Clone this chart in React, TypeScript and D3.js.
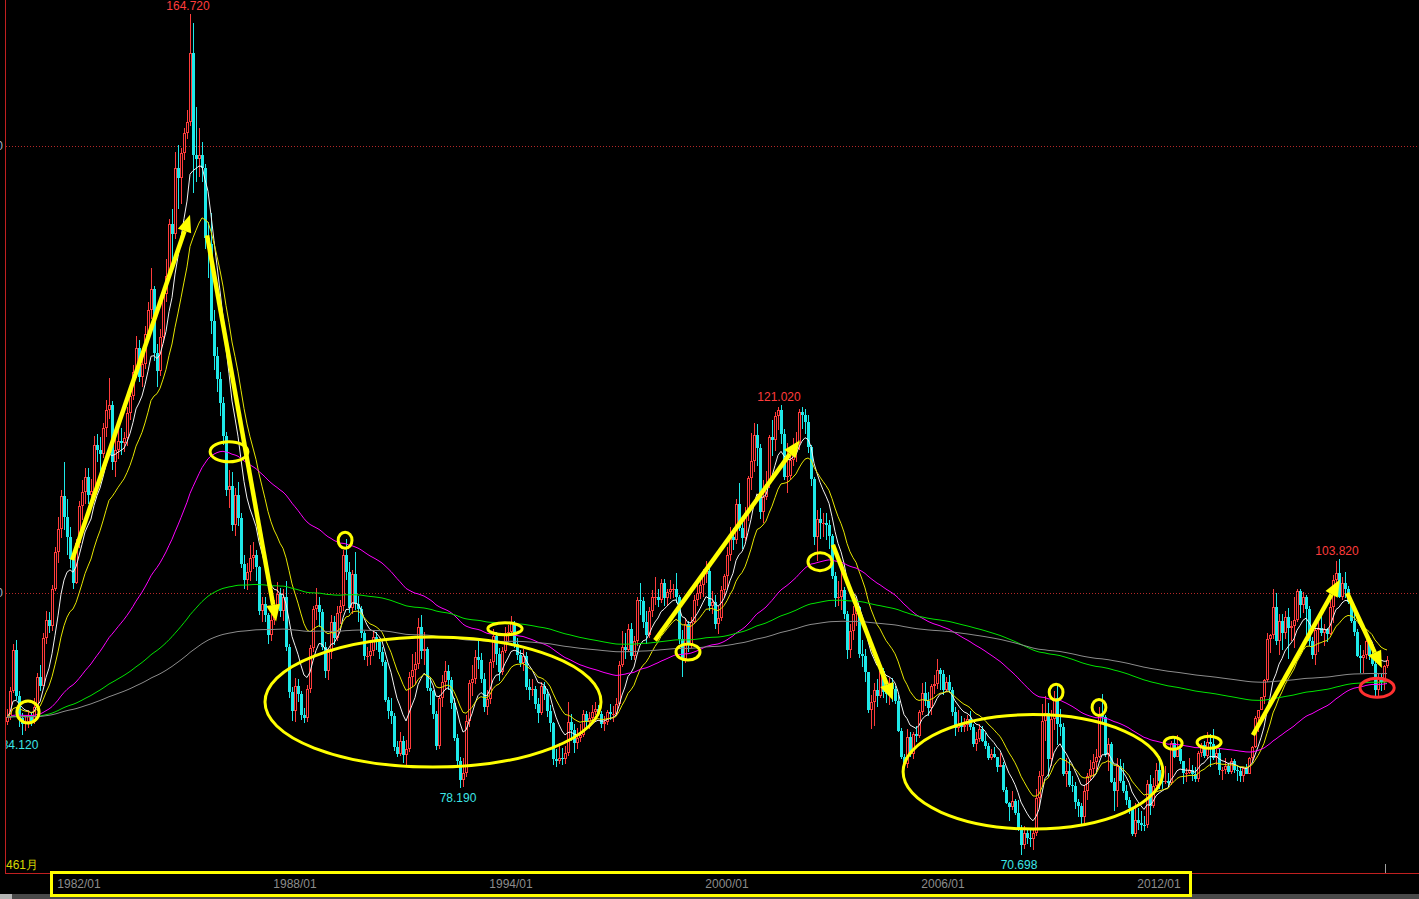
import React from "react";
import * as d3 from "d3";

const W = 1419;
const H = 899;

// U.S. Dollar Index, monthly bars 1980/01 – 2018/05 (461 months).
// Each month opens at the previous month's close.
const startYear = 1980;
const firstOpen = 85.6;

const closes = [
  // 1980
  86.1, 89.0, 93.6, 88.5, 86.0, 85.3, 85.6, 86.3, 85.6, 87.3, 90.6, 89.6,
  // 1981
  95.0, 97.0, 96.3, 100.4, 104.6, 107.2, 110.8, 108.5, 106.3, 103.8, 101.1, 105.6,
  // 1982
  109.7, 111.3, 113.0, 111.0, 111.4, 116.5, 116.0, 115.5, 118.5, 120.5, 121.0, 114.6,
  // 1983
  116.0, 117.0, 116.8, 117.3, 120.1, 122.0, 124.7, 127.4, 124.2, 125.6, 129.0, 131.6,
  // 1984
  134.0, 126.8, 124.8, 128.6, 133.4, 135.5, 141.3, 140.2, 147.5, 146.4, 149.2, 151.5,
  // 1985
  152.7, 160.4, 149.0, 148.6, 149.0, 147.5, 139.7, 139.0, 130.4, 126.5, 123.9, 121.2,
  // 1986
  117.6, 111.5, 112.0, 107.6, 111.0, 108.4, 103.2, 101.4, 102.3, 103.9, 104.2, 102.9,
  // 1987
  98.0, 98.8, 97.5, 95.3, 97.0, 98.3, 99.9, 98.0, 99.6, 94.0, 88.9, 86.8,
  // 1988
  89.6, 88.7, 86.3, 86.0, 89.3, 93.8, 98.2, 98.7, 97.9, 94.0, 91.3, 93.4,
  // 1989
  96.8, 95.0, 97.8, 98.6, 104.3, 102.3, 98.3, 102.1, 98.8, 98.2, 95.5, 92.9,
  // 1990
  93.0, 93.5, 95.1, 94.5, 93.4, 92.3, 88.0, 86.8, 86.2, 82.8, 82.0, 83.5,
  // 1991
  81.9, 82.6, 90.6, 91.4, 92.1, 96.2, 93.5, 93.7, 89.4, 89.0, 86.5, 82.9,
  // 1992
  88.2, 90.1, 91.3, 90.3, 87.7, 83.8, 81.2, 79.1, 79.9, 85.7, 89.9, 90.4,
  // 1993
  92.8, 92.5, 90.4, 87.3, 88.1, 92.3, 95.2, 93.2, 91.2, 93.5, 95.5, 95.6,
  // 1994
  96.6, 94.3, 93.1, 92.2, 92.9, 89.5, 89.1, 89.3, 87.6, 86.6, 89.6, 88.7,
  // 1995
  86.8, 85.5, 81.4, 81.2, 81.5, 81.4, 82.1, 85.6, 84.7, 83.2, 83.8, 84.1,
  // 1996
  86.5, 85.6, 86.0, 86.7, 87.0, 86.5, 85.3, 85.6, 86.7, 86.5, 86.5, 87.6,
  // 1997
  92.0, 94.0, 93.6, 96.0, 92.9, 94.6, 99.2, 99.1, 96.8, 95.3, 98.0, 99.6,
  // 1998
  99.6, 99.2, 101.1, 99.4, 100.1, 100.4, 100.5, 99.5, 94.8, 92.6, 96.5, 94.2,
  // 1999
  96.8, 99.2, 100.0, 100.9, 102.1, 102.5, 98.5, 99.0, 96.5, 97.2, 100.3, 101.9,
  // 2000
  104.3, 106.3, 105.9, 110.0, 107.3, 106.1, 109.0, 112.9, 114.8, 117.7, 116.2, 109.1,
  // 2001
  110.7, 112.2, 117.4, 117.1, 119.8, 120.5, 117.8, 113.0, 113.1, 114.9, 116.4, 116.8,
  // 2002
  120.2, 119.9, 119.1, 116.3, 112.7, 106.3, 108.3, 107.8, 107.8, 107.6, 106.4, 101.9,
  // 2003
  99.4, 99.6, 100.3, 97.6, 93.6, 95.8, 97.7, 98.4, 93.2, 93.0, 91.2, 86.9,
  // 2004
  87.8, 89.2, 88.5, 91.3, 88.9, 88.7, 89.9, 89.3, 87.9, 84.6, 81.6, 80.9,
  // 2005
  83.9, 82.0, 84.2, 84.0, 86.7, 88.8, 87.9, 87.1, 89.6, 89.8, 91.4, 90.9,
  // 2006
  89.2, 90.0, 89.2, 86.7, 84.9, 85.4, 85.0, 85.2, 85.9, 85.0, 83.1, 83.7,
  // 2007
  84.8, 83.5, 82.9, 81.5, 82.0, 81.6, 80.5, 80.8, 78.0, 76.5, 76.1, 76.7,
  // 2008
  75.4, 73.7, 71.8, 73.1, 72.6, 72.5, 73.1, 77.1, 79.5, 85.7, 86.6, 81.4,
  // 2009
  85.9, 88.2, 85.4, 85.0, 79.8, 80.1, 78.5, 78.4, 76.6, 76.2, 74.9, 77.9,
  // 2010
  79.5, 80.3, 81.1, 81.7, 86.4, 86.1, 81.9, 83.1, 78.9, 77.9, 80.7, 79.0,
  // 2011
  77.8, 76.9, 75.9, 73.0, 74.6, 74.3, 74.1, 74.0, 78.6, 76.2, 78.4, 80.2,
  // 2012
  79.0, 78.9, 79.0, 78.8, 83.2, 81.6, 82.6, 81.2, 79.9, 79.9, 80.2, 79.8,
  // 2013
  79.2, 82.1, 83.0, 81.8, 83.3, 83.1, 81.5, 82.1, 80.2, 80.2, 80.7, 80.0,
  // 2014
  81.2, 80.2, 80.1, 79.5, 80.4, 79.8, 81.5, 82.8, 86.0, 86.9, 88.4, 90.3,
  // 2015
  94.8, 95.3, 98.4, 94.6, 96.9, 95.5, 97.3, 96.1, 96.3, 97.0, 100.2, 98.7,
  // 2016
  99.6, 98.2, 94.6, 93.1, 95.9, 96.1, 95.5, 96.0, 95.4, 98.4, 101.5, 102.2,
  // 2017
  99.5, 101.1, 100.4, 99.0, 96.9, 95.6, 92.9, 92.7, 93.1, 94.6, 92.9, 92.1,
  // 2018
  89.1, 90.6, 90.1, 91.8, 92.5,
];

const highs = [
  // 1980
  87.0, 89.5, 94.3, 94.7, 89.0, 86.6, 86.2, 86.9, 86.6, 88.2, 91.0, 92.0,
  // 1981
  95.5, 98.0, 97.9, 100.9, 105.2, 108.5, 111.5, 114.6, 110.5, 107.4, 104.5, 106.0,
  // 1982
  110.3, 112.6, 114.0, 114.0, 112.8, 117.6, 117.8, 117.5, 119.0, 121.6, 124.1, 121.5,
  // 1983
  118.0, 118.4, 118.5, 118.0, 120.8, 122.7, 125.5, 128.8, 128.3, 126.7, 129.9, 132.5,
  // 1984
  136.3, 134.3, 127.8, 129.5, 134.0, 137.4, 141.8, 143.0, 149.3, 150.1, 149.8, 152.0,
  // 1985
  154.0, 164.72, 163.8, 154.4, 152.0, 150.5, 148.0, 141.5, 142.5, 131.6, 127.5, 124.7,
  // 1986
  121.9, 118.0, 113.8, 113.5, 111.8, 112.4, 109.0, 104.3, 103.4, 105.4, 105.7, 104.8,
  // 1987
  103.0, 99.5, 99.5, 97.8, 97.6, 99.2, 101.2, 100.6, 100.5, 101.3, 94.3, 89.5,
  // 1988
  90.5, 90.4, 89.0, 87.1, 89.7, 94.2, 98.5, 100.6, 99.6, 98.2, 94.5, 93.9,
  // 1989
  97.5, 97.4, 98.5, 99.2, 104.8, 106.0, 103.5, 102.6, 104.6, 99.7, 98.6, 95.8,
  // 1990
  94.0, 94.4, 95.8, 95.6, 94.8, 94.0, 92.5, 88.4, 88.2, 86.6, 83.5, 84.5,
  // 1991
  84.0, 83.6, 91.2, 93.2, 93.4, 97.2, 97.5, 95.6, 94.0, 90.6, 89.2, 86.8,
  // 1992
  88.6, 90.8, 92.4, 92.0, 90.6, 88.2, 84.2, 81.6, 81.5, 86.3, 90.3, 92.0,
  // 1993
  93.6, 94.7, 93.3, 91.0, 89.1, 92.6, 96.0, 95.6, 93.9, 94.0, 96.2, 96.4,
  // 1994
  97.4, 96.9, 95.0, 93.6, 93.7, 93.4, 90.4, 90.4, 89.6, 88.2, 90.0, 90.1,
  // 1995
  89.3, 87.5, 85.6, 82.6, 83.2, 82.7, 82.9, 87.8, 86.5, 85.4, 84.9, 85.3,
  // 1996
  86.9, 86.8, 86.7, 87.5, 87.8, 87.5, 86.8, 86.2, 86.9, 87.6, 87.4, 88.3,
  // 1997
  92.4, 95.7, 95.5, 96.5, 96.6, 95.2, 99.6, 101.1, 99.6, 98.0, 98.4, 100.3,
  // 1998
  101.8, 100.5, 101.6, 101.6, 100.5, 101.4, 101.0, 102.2, 99.8, 95.9, 97.2, 96.9,
  // 1999
  97.3, 99.8, 101.0, 101.8, 102.7, 103.6, 103.4, 100.2, 99.8, 98.5, 100.8, 102.1,
  // 2000
  105.1, 107.4, 107.3, 110.5, 112.3, 108.5, 109.6, 113.1, 117.9, 119.0, 118.9, 116.7,
  // 2001
  112.6, 113.6, 117.7, 119.3, 120.3, 120.8, 121.02, 118.4, 116.8, 116.3, 117.3, 118.0,
  // 2002
  120.6, 120.8, 120.6, 119.9, 116.6, 113.0, 109.3, 109.5, 108.9, 108.9, 108.2, 106.6,
  // 2003
  102.4, 101.3, 102.3, 100.7, 98.0, 96.5, 98.6, 99.3, 98.5, 94.7, 93.7, 91.2,
  // 2004
  88.6, 89.9, 90.4, 91.8, 91.6, 89.9, 90.5, 90.5, 89.6, 88.6, 84.9, 82.0,
  // 2005
  84.8, 84.5, 84.4, 85.1, 86.9, 89.9, 90.1, 88.9, 89.8, 90.8, 92.6, 91.6,
  // 2006
  91.4, 90.6, 90.8, 89.5, 87.2, 86.9, 86.2, 86.0, 86.4, 86.8, 85.4, 84.4,
  // 2007
  85.3, 85.1, 84.3, 83.2, 82.5, 82.8, 81.7, 82.1, 81.1, 78.3, 76.6, 77.9,
  // 2008
  77.0, 76.8, 74.0, 73.9, 73.7, 73.6, 73.5, 78.1, 80.1, 87.6, 88.5, 87.7,
  // 2009
  86.9, 89.0, 89.6, 87.0, 85.5, 81.5, 81.3, 79.5, 78.9, 77.0, 76.5, 78.5,
  // 2010
  79.9, 81.3, 82.0, 82.5, 87.2, 88.7, 86.4, 83.8, 83.3, 79.3, 81.5, 81.4,
  // 2011
  81.0, 78.5, 77.2, 76.0, 76.5, 76.0, 75.6, 75.1, 79.1, 79.6, 79.3, 81.0,
  // 2012
  81.8, 79.6, 80.7, 79.9, 83.4, 83.9, 84.1, 83.0, 81.2, 80.4, 81.5, 80.8,
  // 2013
  80.5, 82.3, 83.2, 83.5, 84.5, 84.2, 84.8, 82.5, 82.6, 80.5, 81.5, 81.0,
  // 2014
  81.5, 81.4, 80.6, 80.4, 80.5, 80.9, 81.6, 82.9, 86.2, 86.9, 88.4, 90.4,
  // 2015
  95.5, 95.4, 100.4, 100.0, 97.6, 97.6, 98.0, 98.3, 96.9, 99.5, 100.5, 100.5,
  // 2016
  100.1, 99.8, 98.5, 95.1, 96.0, 96.8, 97.6, 96.5, 96.1, 99.1, 102.0, 103.6,
  // 2017
  103.82, 101.8, 102.3, 100.8, 99.4, 97.8, 96.0, 94.2, 93.6, 95.2, 95.0, 93.9,
  // 2018
  92.6, 90.9, 90.9, 91.9, 92.9,
];

const lows = [
  // 1980
  85.2, 85.8, 88.8, 88.0, 85.0, 84.12, 84.6, 84.9, 85.1, 85.4, 86.8, 89.0,
  // 1981
  89.8, 94.3, 95.5, 95.8, 100.2, 103.3, 106.1, 107.0, 104.2, 102.8, 100.4, 101.0,
  // 1982
  105.0, 108.2, 109.9, 110.0, 109.8, 110.9, 114.7, 113.6, 115.1, 117.4, 119.5, 113.8,
  // 1983
  113.0, 115.0, 115.4, 115.8, 116.4, 119.3, 121.6, 124.1, 123.6, 123.0, 125.1, 128.4,
  // 1984
  130.6, 126.0, 123.0, 124.3, 128.0, 132.5, 135.8, 137.0, 139.6, 143.0, 143.5, 148.4,
  // 1985
  150.8, 152.2, 144.7, 146.0, 146.5, 146.0, 138.5, 135.2, 129.0, 125.0, 122.5, 119.8,
  // 1986
  116.5, 110.8, 109.5, 106.9, 106.4, 107.5, 102.8, 100.5, 100.3, 101.3, 102.7, 101.3,
  // 1987
  97.5, 96.8, 96.8, 94.3, 94.6, 96.4, 97.8, 97.3, 96.9, 93.5, 88.2, 85.7,
  // 1988
  85.6, 87.8, 85.8, 85.5, 85.6, 88.8, 93.4, 97.0, 96.2, 93.6, 90.5, 90.3,
  // 1989
  92.6, 94.2, 94.6, 96.5, 98.0, 101.4, 97.8, 97.6, 98.1, 96.8, 95.0, 92.5,
  // 1990
  91.8, 91.9, 93.0, 93.6, 92.6, 91.8, 87.8, 85.9, 85.3, 82.3, 81.6, 81.8,
  // 1991
  81.0, 80.6, 82.2, 89.5, 89.8, 91.5, 92.6, 92.0, 89.0, 87.5, 85.9, 82.4,
  // 1992
  82.6, 87.2, 89.2, 89.1, 87.0, 83.4, 80.5, 78.19, 78.3, 79.4, 85.0, 88.5,
  // 1993
  89.8, 91.5, 89.9, 86.7, 86.3, 87.6, 91.6, 91.9, 90.2, 90.8, 93.3, 94.6,
  // 1994
  95.2, 93.8, 92.5, 91.7, 91.3, 89.2, 88.0, 88.5, 87.0, 85.5, 86.4, 88.0,
  // 1995
  86.1, 84.5, 80.8, 80.5, 80.9, 80.8, 80.9, 81.8, 83.5, 82.1, 82.6, 83.3,
  // 1996
  83.9, 84.9, 84.8, 85.5, 86.3, 86.2, 84.9, 84.6, 85.2, 85.8, 85.6, 86.2,
  // 1997
  87.4, 91.7, 92.6, 93.4, 92.5, 92.5, 94.1, 97.5, 96.1, 94.3, 95.0, 97.3,
  // 1998
  98.7, 98.4, 98.9, 98.6, 98.6, 99.3, 99.4, 98.9, 94.3, 90.6, 92.2, 93.4,
  // 1999
  93.8, 96.5, 98.6, 99.3, 99.6, 101.1, 98.0, 97.6, 96.0, 95.4, 96.9, 99.6,
  // 2000
  100.6, 103.6, 104.8, 105.5, 106.9, 104.9, 105.8, 108.0, 111.5, 113.5, 114.2, 108.3,
  // 2001
  107.8, 110.4, 111.7, 115.3, 115.9, 118.2, 116.7, 112.6, 111.2, 112.6, 114.2, 114.6,
  // 2002
  116.0, 118.4, 117.8, 115.7, 112.0, 105.4, 103.6, 106.0, 106.3, 105.9, 104.9, 101.6,
  // 2003
  98.4, 98.5, 98.1, 97.1, 92.6, 92.7, 94.7, 96.3, 92.7, 91.7, 90.0, 86.6,
  // 2004
  84.8, 85.1, 87.3, 88.3, 88.3, 87.7, 87.5, 87.8, 87.6, 84.4, 81.4, 80.4,
  // 2005
  80.4, 81.7, 81.4, 83.3, 83.8, 86.3, 87.4, 86.2, 86.3, 88.7, 89.3, 89.1,
  // 2006
  88.6, 88.9, 88.8, 86.2, 84.0, 84.4, 84.4, 84.4, 84.6, 84.7, 82.8, 82.3,
  // 2007
  83.3, 83.3, 82.6, 81.3, 81.3, 81.5, 80.0, 80.5, 77.7, 76.4, 74.5, 75.7,
  // 2008
  75.2, 73.4, 70.698, 71.4, 71.9, 71.6, 71.3, 72.8, 76.1, 78.3, 83.4, 79.4,
  // 2009
  80.7, 84.7, 83.0, 84.0, 79.5, 78.3, 78.3, 77.7, 75.8, 74.9, 74.2, 74.3,
  // 2010
  76.8, 79.0, 79.3, 80.1, 81.5, 85.5, 81.6, 80.1, 78.8, 75.6, 76.1, 78.8,
  // 2011
  77.6, 76.3, 75.3, 72.8, 72.7, 73.5, 73.4, 73.4, 73.7, 75.2, 75.9, 77.9,
  // 2012
  78.1, 78.1, 78.6, 78.4, 78.5, 81.5, 81.6, 80.9, 78.6, 78.9, 79.8, 79.0,
  // 2013
  78.9, 78.9, 81.7, 81.5, 81.4, 80.5, 81.3, 80.8, 79.6, 79.1, 79.8, 79.7,
  // 2014
  79.8, 79.9, 79.0, 78.9, 78.9, 79.7, 79.8, 81.2, 82.7, 84.5, 86.9, 87.6,
  // 2015
  90.1, 93.3, 94.9, 94.2, 93.1, 93.6, 94.9, 92.6, 94.6, 93.8, 96.8, 97.2,
  // 2016
  97.8, 95.2, 94.1, 92.6, 91.9, 93.4, 95.2, 94.1, 94.5, 95.3, 96.7, 100.6,
  // 2017
  99.4, 99.2, 99.4, 98.8, 96.6, 95.2, 92.8, 91.0, 91.0, 92.6, 92.5, 91.8,
  // 2018
  88.4, 88.3, 89.0, 89.1, 91.6,
];

const dateTicks = ["1982/01", "1988/01", "1994/01", "2000/01", "2006/01", "2012/01"];
const gridPrices = [100, 150];

// Moving averages: exponential, span N (alpha = 2 / (N + 1)), seeded with the first close.
const maSpans = [10, 20, 100, 270, 450];
const maColors = ["#f2f2f2", "#e6e600", "#ff00ff", "#00e400", "#8c8c8c"];

// Months whose high / low is printed on the chart.
const extremeMarks = [
  { index: 61, kind: "high" },
  { index: 258, kind: "high" },
  { index: 444, kind: "high" },
  { index: 5, kind: "low" },
  { index: 151, kind: "low" },
  { index: 338, kind: "low" },
];

// Hand-drawn markup, in (month index, price) coordinates.
const trendArrows = [
  { i0: 21.7, p0: 103.7, i1: 61, p1: 142.3 },
  { i0: 66.7, p0: 140.0, i1: 89.7, p1: 96.8 },
  { i0: 216, p0: 94.7, i1: 264.3, p1: 117.1 },
  { i0: 275.3, p0: 105.4, i1: 295.3, p1: 88.0 },
  { i0: 415.3, p0: 84.1, i1: 444.3, p1: 101.5 },
  { i0: 446.7, p0: 100.0, i1: 458.3, p1: 91.6 },
];

const rings = [
  { i: 7, p: 86.7, ri: 3.7, rp: 1.23, color: "#ffff00" },
  { i: 74, p: 115.8, ri: 6.3, rp: 1.12, color: "#ffff00" },
  { i: 112.7, p: 105.9, ri: 2.3, rp: 0.9, color: "#ffff00" },
  { i: 142, p: 87.8, ri: 56, rp: 7.27, color: "#ffff00" },
  { i: 166, p: 96.0, ri: 5.7, rp: 0.67, color: "#ffff00" },
  { i: 227, p: 93.4, ri: 4, rp: 0.9, color: "#ffff00" },
  { i: 271, p: 103.5, ri: 4, rp: 1.0, color: "#ffff00" },
  { i: 342, p: 80.0, ri: 43.3, rp: 6.4, color: "#ffff00" },
  { i: 349.7, p: 88.9, ri: 2.3, rp: 0.9, color: "#ffff00" },
  { i: 364, p: 87.2, ri: 2.3, rp: 0.9, color: "#ffff00" },
  { i: 388.7, p: 83.2, ri: 3, rp: 0.67, color: "#ffff00" },
  { i: 400.7, p: 83.3, ri: 4, rp: 0.67, color: "#ffff00" },
  { i: 456.7, p: 89.4, ri: 5.7, rp: 1.06, color: "#ff3030" },
];

const UP = "#ff3c3c";
const DOWN = "#1ee8e8";
const AXIS_RED = "#c02020";
const FONT = "'Liberation Sans', Arial, sans-serif";

function tickIndex(label: string) {
  const [y, m] = label.split("/").map(Number);
  return (y - startYear) * 12 + (m - 1);
}

function ema(values: number[], span: number) {
  const a = 2 / (span + 1);
  const out: number[] = [];
  let prev = values[0];
  values.forEach((v, k) => {
    prev = k === 0 ? v : a * v + (1 - a) * prev;
    out.push(prev);
  });
  return out;
}

export default function App() {
  const n = closes.length;
  const x = d3.scaleLinear().domain([0, n - 1]).range([7, 7 + 3 * (n - 1)]);
  const y = d3.scaleLinear().domain([100, 150]).range([593, 146]);

  const bars = closes.map((c, i) => {
    const o = i === 0 ? firstOpen : closes[i - 1];
    const hi = Math.max(highs[i], o, c);
    const lo = Math.min(lows[i], o, c);
    return { i, o, c, hi, lo };
  });

  const line = d3
    .line<number>()
    .x((_, i) => x(i))
    .y((v) => y(v))
    .curve(d3.curveLinear);

  const maPaths = maSpans.map((s) => line(ema(closes, s)) || "");

  const arrowHead = (a: { i0: number; p0: number; i1: number; p1: number }) => {
    const x0 = x(a.i0), y0 = y(a.p0), x1 = x(a.i1), y1 = y(a.p1);
    const ang = Math.atan2(y1 - y0, x1 - x0);
    const len = 17, half = 7;
    const bx = x1 - len * Math.cos(ang), by = y1 - len * Math.sin(ang);
    const px = -Math.sin(ang) * half, py = Math.cos(ang) * half;
    return {
      shaft: `M${x0},${y0}L${bx},${by}`,
      head: `M${x1},${y1}L${bx + px},${by + py}L${bx - px},${by - py}Z`,
    };
  };

  return (
    <svg
      width={W}
      height={H}
      style={{ position: "fixed", left: 0, top: 0, background: "#000", display: "block" }}
    >
      <defs>
        <clipPath id="plot">
          <rect x={6} y={0} width={W - 6} height={873} />
        </clipPath>
      </defs>
      <rect x={0} y={0} width={W} height={H} fill="#000" />

      {/* price grid */}
      {gridPrices.map((p) => (
        <g key={p}>
          <line
            x1={6}
            x2={W}
            y1={Math.round(y(p)) + 0.5}
            y2={Math.round(y(p)) + 0.5}
            stroke="#b42828"
            strokeDasharray="1 2"
          />
          <text
            x={3}
            y={Math.round(y(p)) + 4}
            textAnchor="end"
            fill="#a8b4c8"
            fontSize={12}
            fontFamily={FONT}
          >
            {p}
          </text>
        </g>
      ))}

      {/* candles */}
      <g clipPath="url(#plot)" shapeRendering="crispEdges">
        {bars.map((b) => {
          const cx = Math.round(x(b.i));
          const t = Math.round(y(Math.max(b.o, b.c)));
          const bt = Math.round(y(Math.min(b.o, b.c)));
          const yh = Math.round(y(b.hi));
          const yl = Math.round(y(b.lo));
          if (b.c >= b.o) {
            return (
              <g key={b.i} stroke={UP} fill="none">
                {yh < t && <line x1={cx + 0.5} x2={cx + 0.5} y1={yh} y2={t} />}
                {yl > bt && <line x1={cx + 0.5} x2={cx + 0.5} y1={bt} y2={yl} />}
                {bt - t >= 2 ? (
                  <rect x={cx - 0.5} y={t + 0.5} width={2} height={bt - t - 1} />
                ) : (
                  <line x1={cx - 1} x2={cx + 2} y1={t + 0.5} y2={t + 0.5} />
                )}
              </g>
            );
          }
          return (
            <g key={b.i}>
              <line x1={cx + 0.5} x2={cx + 0.5} y1={yh} y2={yl} stroke={DOWN} />
              <rect x={cx - 1} y={t} width={3} height={Math.max(bt - t, 1)} fill={DOWN} />
            </g>
          );
        })}
      </g>

      {/* moving averages */}
      <g clipPath="url(#plot)" fill="none" strokeWidth={1}>
        {maPaths.map((d, k) => (
          <path key={k} d={d} stroke={maColors[k]} />
        ))}
      </g>

      {/* extreme value labels */}
      <g clipPath="url(#plot)" fontFamily={FONT} fontSize={12}>
        {extremeMarks.map((m) => {
          const isHigh = m.kind === "high";
          const v = isHigh ? highs[m.index] : lows[m.index];
          return (
            <text
              key={m.index}
              x={x(m.index) - 2}
              y={isHigh ? y(v) - 4 : y(v) + 14}
              textAnchor="middle"
              fill={isHigh ? "#ff3c3c" : "#3ce6e6"}
            >
              {v.toFixed(3)}
            </text>
          );
        })}
      </g>

      {/* markup */}
      <g clipPath="url(#plot)">
        {rings.map((r, k) => (
          <ellipse
            key={k}
            cx={x(r.i)}
            cy={y(r.p)}
            rx={x(r.ri) - x(0)}
            ry={y(0) - y(r.rp)}
            fill="none"
            stroke={r.color}
            strokeWidth={3}
          />
        ))}
        {trendArrows.map((a, k) => {
          const g = arrowHead(a);
          return (
            <g key={k}>
              <path d={g.shaft} stroke="#ffff00" strokeWidth={4.5} fill="none" />
              <path d={g.head} fill="#ffff00" />
            </g>
          );
        })}
      </g>

      {/* frame */}
      <line x1={5.5} x2={5.5} y1={0} y2={873} stroke={AXIS_RED} />
      <line x1={5} x2={W} y1={873.5} y2={873.5} stroke={AXIS_RED} />
      <line x1={x(n - 1) - 1.5} x2={x(n - 1) - 1.5} y1={864} y2={873} stroke="#a0a0a0" />

      <text x={6} y={869} fill="#d8d800" fontSize={12} fontFamily={FONT}>
        {n}月
      </text>

      {/* date axis */}
      {dateTicks.map((d) => (
        <text
          key={d}
          x={x(tickIndex(d))}
          y={888}
          textAnchor="middle"
          fill="#8c8c8c"
          fontSize={12}
          fontFamily={FONT}
        >
          {d}
        </text>
      ))}

      {/* scroll bar */}
      <rect x={0} y={894} width={W} height={5} fill="#4a4a4a" />
      <rect x={0} y={894} width={12} height={5} fill="#b4b4b4" />

      <rect x={51.5} y={872.5} width={1139} height={23} fill="none" stroke="#ffff00" strokeWidth={3} />
    </svg>
  );
}
